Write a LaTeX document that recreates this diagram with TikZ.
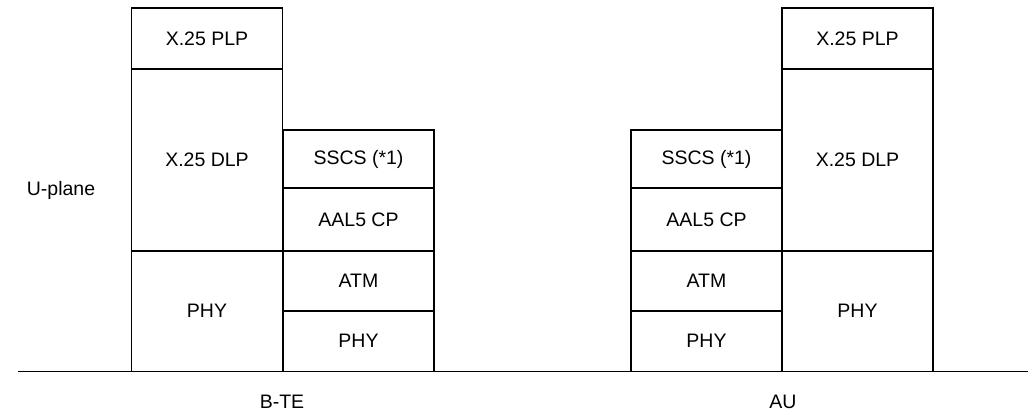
\documentclass[tikz,border=0pt]{standalone}
\usepackage{fontspec}
\setmainfont{Liberation Sans}
\tikzset{
    layer/.style={draw, line width=1.1pt, inner sep=0pt, outer sep=0pt, minimum width=151pt, font=\fontsize{19.5}{23}\selectfont},
    under/.style={layer, anchor=north}
}
\begin{document}
\begin{tikzpicture}[x=1pt, y=-1pt, every node/.append style={font=\fontsize{19.5}{23}\selectfont}]
    \useasboundingbox (0,0) rectangle (1028,414);
    \node[layer, anchor=north west, minimum height=61pt] (tePLP) at (131.5,8) {X.25 PLP};
    \node[under, minimum height=182pt] (teDLP) at (tePLP.south) {X.25 DLP};
    \node[under, minimum height=120.5pt] (tePHY) at (teDLP.south) {PHY};
    \node[layer, anchor=north west, minimum height=58pt] (teSSCS) at (283,130) {SSCS (*1)};
    \node[under, minimum height=63pt] (teAAL) at (teSSCS.south) {AAL5 CP};
    \node[under, minimum height=60pt] (teATM) at (teAAL.south) {ATM};
    \node[under, minimum height=60.5pt] (teLow) at (teATM.south) {PHY};
    \node[layer, anchor=north west, minimum height=58pt] (auSSCS) at (631,130) {SSCS (*1)};
    \node[under, minimum height=63pt] (auAAL) at (auSSCS.south) {AAL5 CP};
    \node[under, minimum height=60pt] (auATM) at (auAAL.south) {ATM};
    \node[under, minimum height=60.5pt] (auLow) at (auATM.south) {PHY};
    \node[layer, anchor=north west, minimum height=61pt] (auPLP) at (782,8) {X.25 PLP};
    \node[under, minimum height=182pt] (auDLP) at (auPLP.south) {X.25 DLP};
    \node[under, minimum height=120.5pt] (auPHY) at (auDLP.south) {PHY};
    \coordinate (baseL) at (18,371.5);
    \coordinate (baseR) at (1028,371.5);
    \draw[line width=1.5pt] (baseL) -- (baseR);
    \node (uplane) at (61,190) {U-plane};
    \node (bte) at (282,402) {B-TE};
    \node (au) at (783,402) {AU};
\end{tikzpicture}
\end{document}
